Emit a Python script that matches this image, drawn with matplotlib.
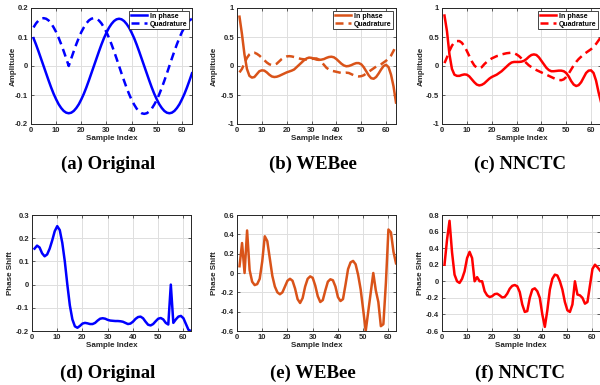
import numpy as np
import matplotlib
matplotlib.use('Agg')
import matplotlib.pyplot as plt
from matplotlib.ticker import FuncFormatter

# sample indices
idx_amp = np.arange(1, 65)
idx_phase = np.arange(1, 64)

# (a) original I/Q
orig_i = [0.096, 0.074, 0.050, 0.025, 0.0, -0.025, -0.050, -0.074, -0.096, -0.115,
          -0.132, -0.145, -0.155, -0.161, -0.163, -0.161, -0.155, -0.145, -0.132, -0.115,
          -0.096, -0.074, -0.050, -0.025, 0.0, 0.025, 0.050, 0.074, 0.096, 0.115,
          0.132, 0.145, 0.155, 0.161, 0.163, 0.161, 0.155, 0.145, 0.132, 0.115,
          0.096, 0.074, 0.050, 0.025, 0.0, -0.025, -0.050, -0.074, -0.096, -0.115,
          -0.132, -0.145, -0.155, -0.161, -0.163, -0.161, -0.155, -0.145, -0.132, -0.115,
          -0.096, -0.074, -0.050, -0.025]
orig_q = [0.133, 0.147, 0.157, 0.163, 0.165, 0.163, 0.157, 0.147, 0.133, 0.117,
          0.097, 0.075, 0.051, 0.026, 0.0, 0.026, 0.051, 0.075, 0.097, 0.117,
          0.133, 0.147, 0.157, 0.163, 0.165, 0.163, 0.157, 0.147, 0.133, 0.117,
          0.097, 0.075, 0.051, 0.026, 0.0, -0.026, -0.051, -0.075, -0.097, -0.117,
          -0.133, -0.147, -0.157, -0.163, -0.165, -0.163, -0.157, -0.147, -0.133, -0.117,
          -0.097, -0.075, -0.051, -0.026, 0.0, 0.026, 0.051, 0.075, 0.097, 0.117,
          0.133, 0.147, 0.157, 0.163]

# (b) WEBee I/Q
webee_i = [0.85, 0.55, 0.2, -0.05, -0.17, -0.2, -0.19, -0.14, -0.09, -0.075,
           -0.08, -0.11, -0.15, -0.18, -0.19, -0.185, -0.17, -0.15, -0.13, -0.11,
           -0.095, -0.08, -0.06, -0.02, 0.02, 0.06, 0.1, 0.13, 0.145, 0.14,
           0.125, 0.11, 0.105, 0.11, 0.12, 0.14, 0.155, 0.16, 0.15, 0.12,
           0.08, 0.04, 0.01, -0.005, 0.0, 0.015, 0.035, 0.05, 0.05, 0.03,
           -0.02, -0.09, -0.16, -0.21, -0.22, -0.19, -0.13, -0.06, 0.0, 0.02,
           -0.02, -0.15, -0.35, -0.63]
webee_q = [-0.11, -0.05, 0.05, 0.14, 0.2, 0.23, 0.23, 0.21, 0.18, 0.14,
           0.1, 0.06, 0.03, 0.015, 0.02, 0.04, 0.08, 0.12, 0.15, 0.165,
           0.17, 0.165, 0.155, 0.14, 0.13, 0.12, 0.115, 0.11, 0.11, 0.12,
           0.13, 0.13, 0.11, 0.07, 0.02, -0.03, -0.06, -0.08, -0.09, -0.1,
           -0.11, -0.12, -0.12, -0.115, -0.12, -0.14, -0.16, -0.175, -0.18, -0.175,
           -0.16, -0.13, -0.1, -0.07, -0.04, -0.01, 0.01, 0.03, 0.06, 0.09,
           0.13, 0.18, 0.26, 0.35]

# (c) NNCTC I/Q
nnctc_i = [0.87, 0.6, 0.2, -0.05, -0.15, -0.17, -0.17, -0.155, -0.145, -0.15,
           -0.18, -0.23, -0.28, -0.32, -0.335, -0.325, -0.3, -0.26, -0.22, -0.19,
           -0.17, -0.15, -0.12, -0.09, -0.05, -0.01, 0.03, 0.06, 0.07, 0.07,
           0.07, 0.075, 0.09, 0.12, 0.16, 0.19, 0.2, 0.19, 0.15, 0.09,
           0.03, -0.03, -0.07, -0.09, -0.09, -0.085, -0.08, -0.08, -0.09, -0.12,
           -0.18, -0.26, -0.32, -0.345, -0.33, -0.28, -0.2, -0.12, -0.08, -0.075,
           -0.12, -0.25, -0.45, -0.62]
nnctc_q = [0.05, 0.15, 0.26, 0.35, 0.41, 0.43, 0.43, 0.4, 0.34, 0.26,
           0.17, 0.08, 0.01, -0.03, -0.04, -0.02, 0.03, 0.07, 0.1, 0.13,
           0.15, 0.17, 0.18, 0.2, 0.21, 0.22, 0.225, 0.23, 0.22, 0.2,
           0.17, 0.13, 0.09, 0.05, 0.01, -0.02, -0.05, -0.07, -0.09, -0.11,
           -0.13, -0.15, -0.17, -0.19, -0.21, -0.23, -0.24, -0.245, -0.23, -0.19,
           -0.13, -0.06, 0.01, 0.07, 0.12, 0.16, 0.2, 0.23, 0.26, 0.29,
           0.33, 0.38, 0.44, 0.5]

# (d)-(f) phase shift
orig_phase = [0.155, 0.168, 0.16, 0.135, 0.122, 0.13, 0.155, 0.19, 0.23, 0.252,
              0.235, 0.18, 0.1, 0.0, -0.09, -0.15, -0.18, -0.186, -0.178, -0.168,
              -0.165, -0.167, -0.17, -0.17, -0.165, -0.155, -0.147, -0.145, -0.147, -0.152,
              -0.155, -0.156, -0.157, -0.157, -0.158, -0.16, -0.165, -0.17, -0.168, -0.16,
              -0.148, -0.14, -0.138, -0.145, -0.16, -0.173, -0.176, -0.17, -0.158, -0.147,
              -0.144, -0.15, -0.165, -0.172, 0.0, -0.165, -0.15, -0.138, -0.135, -0.145,
              -0.17, -0.195, -0.2]
webee_phase = [0.07, 0.31, 0.0, 0.44, 0.03, -0.09, -0.125, -0.115, -0.06, 0.12,
               0.38, 0.33, 0.15, -0.03, -0.14, -0.2, -0.22, -0.2, -0.14, -0.08,
               -0.06, -0.08, -0.16, -0.27, -0.31, -0.26, -0.14, -0.06, -0.035, -0.05,
               -0.13, -0.24, -0.3, -0.28, -0.18, -0.09, -0.065, -0.075, -0.14, -0.25,
               -0.29, -0.27, -0.12, 0.04, 0.11, 0.125, 0.09, -0.02, -0.17, -0.38,
               -0.6, -0.4, -0.2, 0.0, -0.18, -0.3, -0.55, -0.53, -0.1, 0.45,
               0.42, 0.22, 0.1]
nnctc_phase = [0.2, 0.5, 0.73, 0.35, 0.08, 0.0, -0.02, 0.03, 0.12, 0.28,
               0.355, 0.28, 0.0, 0.05, 0.0, 0.0, -0.12, -0.17, -0.19, -0.18,
               -0.155, -0.15, -0.17, -0.195, -0.19, -0.15, -0.09, -0.055, -0.045, -0.06,
               -0.13, -0.28, -0.37, -0.36, -0.2, -0.1, -0.085, -0.12, -0.2, -0.4,
               -0.55, -0.35, -0.1, 0.03, 0.08, 0.07, 0.0, -0.1, -0.25, -0.35,
               -0.37, -0.28, 0.0, -0.16, -0.17, -0.2, -0.27, -0.25, -0.05, 0.15,
               0.2, 0.17, 0.13]

BLUE = '#0000ff'
ORANGE = '#d95319'
RED = '#ff0000'

plt.rcParams['font.family'] = ['Liberation Sans', 'DejaVu Sans']
plt.rcParams['axes.unicode_minus'] = False

fig = plt.figure(figsize=(6, 3.85), dpi=100)


def style_axes(ax, xlim, ylim, yticks, ylabel, ylab_x):
    ax.set_xlim(*xlim)
    ax.set_ylim(*ylim)
    ax.set_xticks(range(0, 61, 10))
    ax.set_yticks(yticks)
    ax.yaxis.set_major_formatter(FuncFormatter(lambda v, p: '%g' % round(v, 2)))
    ax.grid(True, color='#dedede', linewidth=0.7)
    ax.set_axisbelow(True)
    ax.tick_params(direction='in', length=2, width=0.5, labelsize=5.5, pad=2,
                   top=True, right=True, colors='#262626')
    for lab in ax.get_xticklabels() + ax.get_yticklabels():
        lab.set_fontweight('bold')
    for sp in ax.spines.values():
        sp.set_linewidth(0.7)
        sp.set_color('#262626')
    ax.set_xlabel('Sample Index', fontsize=5.8, fontweight='bold', color='#262626', labelpad=1)
    ax.set_ylabel(ylabel, fontsize=5.8, fontweight='bold', color='#262626')
    ax.yaxis.set_label_coords(ylab_x, 0.5)


def amp_panel(rect, i_vals, q_vals, color):
    ax = fig.add_axes(rect)
    ax.plot(idx_amp, i_vals, color=color, lw=1.8, label='In phase')
    ax.plot(idx_amp, q_vals, color=color, lw=1.8, ls=(0, (3.2, 2.0)), label='Quadrature')
    return ax


def phase_panel(rect, vals, color, ylim, yticks, ylab_x):
    ax = fig.add_axes(rect)
    ax.plot(idx_phase, vals, color=color, lw=1.8)
    style_axes(ax, (0, 63), ylim, yticks, 'Phase Shift', ylab_x)
    return ax


top_y, top_h = 1 - 124 / 385, 116 / 385
bot_y, bot_h = 1 - 331 / 385, 116 / 385

ax_a = amp_panel([31 / 600, top_y, 161 / 600, top_h], orig_i, orig_q, BLUE)
style_axes(ax_a, (0, 64), (-0.2, 0.2), np.arange(-0.2, 0.21, 0.1), 'Amplitude', -0.09)
ax_b = amp_panel([237 / 600, top_y, 159 / 600, top_h], webee_i, webee_q, ORANGE)
style_axes(ax_b, (0, 64), (-1, 1), np.arange(-1, 1.01, 0.5), 'Amplitude', -0.12)
ax_c = amp_panel([442 / 600, top_y, 159 / 600, top_h], nnctc_i, nnctc_q, RED)
style_axes(ax_c, (0, 64), (-1, 1), np.arange(-1, 1.01, 0.5), 'Amplitude', -0.11)

for ax in (ax_a, ax_b, ax_c):
    leg = ax.legend(loc='upper right', fancybox=False, framealpha=1, edgecolor='#262626',
                    prop={'size': 5, 'weight': 'bold'}, handlelength=2.4, handletextpad=0.3,
                    borderpad=0.2, labelspacing=0.1, borderaxespad=0.5)
    leg.get_frame().set_linewidth(0.6)

phase_panel([32 / 600, bot_y, 159 / 600, bot_h], orig_phase, BLUE,
            (-0.2, 0.3), np.arange(-0.2, 0.31, 0.1), -0.115)
phase_panel([237 / 600, bot_y, 159 / 600, bot_h], webee_phase, ORANGE,
            (-0.6, 0.6), np.arange(-0.6, 0.61, 0.2), -0.12)
phase_panel([442 / 600, bot_y, 158 / 600, bot_h], nnctc_phase, RED,
            (-0.6, 0.8), np.arange(-0.6, 0.81, 0.2), -0.115)

captions = ['(a) Original', '(b) WEBee', '(c) NNCTC',
            '(d) Original', '(e) WEBee', '(f) NNCTC']
cap_x = [108 / 600, 313 / 600, 520 / 600]
for k, cap in enumerate(captions):
    y = 1 - 164 / 385 if k < 3 else 1 - 373 / 385
    fig.text(cap_x[k % 3], y, cap, ha='center', va='center', fontsize=13.5,
             fontweight='bold', family='Liberation Serif')

fig.savefig('out.png', dpi=100)
